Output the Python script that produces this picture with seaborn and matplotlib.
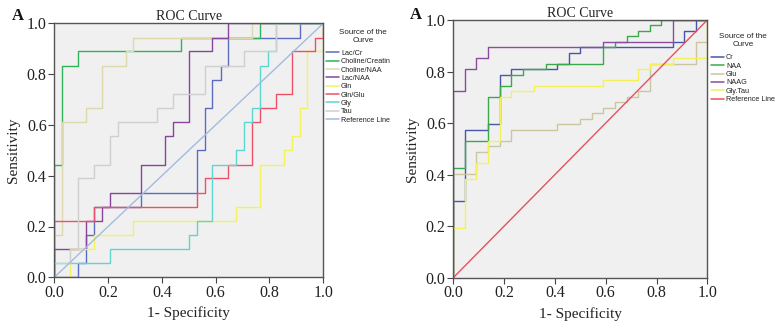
import matplotlib
matplotlib.use("Agg")
import matplotlib.pyplot as plt
import numpy as np
import pandas as pd
import seaborn as sns
from matplotlib.transforms import Bbox, TransformedBbox

# ---------------- data (left panel) ----------------
left_names = ["Lac/Cr", "Choline/Creatinine", "Choline/NAA", "Lac/NAA",
              "Gln", "Gln/Glu", "Gly", "Tau"]
lac_cr_fpr = [0, 0.088, 0.118, 0.147, 0.324, 0.529, 0.559, 0.588, 0.618, 0.647, 0.912, 1.0]
lac_cr_tpr = [0, 0.056, 0.167, 0.278, 0.333, 0.5, 0.667, 0.778, 0.833, 0.944, 1.0, 1.0]
cho_cr_fpr = [0, 0, 0.029, 0.088, 0.471, 0.765, 1.0]
cho_cr_tpr = [0, 0.444, 0.833, 0.889, 0.944, 1.0, 1.0]
cho_naa_fpr = [0, 0, 0.029, 0.118, 0.176, 0.265, 0.294, 0.735, 1.0]
cho_naa_tpr = [0, 0.167, 0.611, 0.667, 0.833, 0.889, 0.944, 1.0, 1.0]
lac_naa_fpr = [0, 0, 0.118, 0.176, 0.206, 0.324, 0.412, 0.441, 0.5, 0.588, 0.647, 1.0]
lac_naa_tpr = [0, 0.111, 0.222, 0.278, 0.333, 0.444, 0.556, 0.611, 0.889, 0.944, 1.0, 1.0]
gln_fpr = [0, 0.059, 0.147, 0.294, 0.676, 0.765, 0.853, 0.882, 0.912, 0.941, 1.0]
gln_tpr = [0, 0.111, 0.167, 0.222, 0.278, 0.444, 0.5, 0.556, 0.667, 0.889, 1.0]
gln_glu_fpr = [0, 0, 0.147, 0.529, 0.559, 0.647, 0.735, 0.765, 0.824, 0.882, 0.971, 1.0]
gln_glu_tpr = [0, 0.222, 0.278, 0.333, 0.389, 0.444, 0.611, 0.667, 0.722, 0.889, 0.944, 1.0]
gly_fpr = [0, 0, 0.206, 0.5, 0.529, 0.588, 0.676, 0.706, 0.735, 0.765, 0.794, 0.824, 1.0]
gly_tpr = [0, 0.056, 0.111, 0.167, 0.222, 0.444, 0.5, 0.611, 0.667, 0.833, 0.889, 1.0, 1.0]
tau_fpr = [0, 0, 0.059, 0.088, 0.147, 0.206, 0.235, 0.382, 0.441, 0.559, 0.706, 0.824, 1.0]
tau_tpr = [0, 0.056, 0.111, 0.389, 0.444, 0.556, 0.611, 0.667, 0.722, 0.833, 0.889, 1.0, 1.0]
left_colors = ["#5b6cc0", "#2fb35a", "#dcd9ae", "#86449a", "#f4f25c",
               "#ef5069", "#5fd6cf", "#cfcfcf", "#a3bbe2"]

# ---------------- data (right panel) ----------------
right_names = ["Cr", "NAA", "Glu", "NAAG", "Gly.Tau"]
cr_fpr = [0, 0, 0.045, 0.136, 0.182, 0.227, 0.409, 0.455, 0.5, 0.864, 0.909, 0.955, 1.0]
cr_tpr = [0, 0.298, 0.574, 0.596, 0.787, 0.809, 0.830, 0.872, 0.894, 0.915, 0.957, 1.0, 1.0]
naa_fpr = [0, 0, 0.045, 0.136, 0.182, 0.227, 0.273, 0.364, 0.591, 0.636, 0.682, 0.727, 0.773, 0.818, 1.0]
naa_tpr = [0, 0.426, 0.532, 0.702, 0.745, 0.787, 0.809, 0.830, 0.894, 0.915, 0.936, 0.957, 0.979, 1.0, 1.0]
glu_fpr = [0, 0, 0.091, 0.136, 0.182, 0.227, 0.409, 0.5, 0.545, 0.591, 0.636, 0.682, 0.727, 0.773, 0.955, 1.0]
glu_tpr = [0, 0.404, 0.489, 0.511, 0.532, 0.574, 0.596, 0.617, 0.638, 0.660, 0.681, 0.702, 0.723, 0.830, 0.915, 1.0]
naag_fpr = [0, 0, 0.045, 0.091, 0.136, 0.591, 0.864, 1.0]
naag_tpr = [0, 0.723, 0.809, 0.851, 0.894, 0.915, 1.0, 1.0]
glytau_fpr = [0, 0, 0.045, 0.091, 0.136, 0.182, 0.227, 0.318, 0.591, 0.727, 0.773, 0.864, 1.0]
glytau_tpr = [0, 0.191, 0.383, 0.447, 0.532, 0.702, 0.723, 0.745, 0.766, 0.809, 0.830, 0.851, 1.0]
right_colors = ["#4656a8", "#3aa84c", "#cbc6a0", "#8a4c9c", "#f3f058", "#e4525f"]

ref_fpr = [0.0, 1.0]
ref_tpr = [0.0, 1.0]
ref_name = "Reference Line"

tick_vals = [0.0, 0.2, 0.4, 0.6, 0.8, 1.0]
tick_labels = ["0.0", "0.2", "0.4", "0.6", "0.8", "1.0"]


def step_path(fpr, tpr):
    xs, ys = [fpr[0]], [tpr[0]]
    for x, y in zip(fpr[1:], tpr[1:]):
        xs += [x, x]
        ys += [ys[-1], y]
    return xs, ys


def build(names, fprs, tprs):
    frames = []
    for n, f, t in zip(names, fprs, tprs):
        xs, ys = step_path(f, t)
        frames.append(pd.DataFrame({"fpr": xs, "tpr": ys, "curve": n}))
    frames.append(pd.DataFrame({"fpr": ref_fpr, "tpr": ref_tpr, "curve": ref_name}))
    return pd.concat(frames, ignore_index=True)


sns.set_theme(style="ticks")
plt.rcParams["font.family"] = ["Liberation Serif", "DejaVu Serif"]

fig = plt.figure(figsize=(7.76, 3.24), dpi=100)
ax1 = fig.add_axes([54.3 / 776, (324 - 277.3) / 324, 269 / 776, 254 / 324])
ax2 = fig.add_axes([453.3 / 776, (324 - 277.7) / 324, 254 / 776, 257.7 / 324])

df_left = build(left_names,
                [lac_cr_fpr, cho_cr_fpr, cho_naa_fpr, lac_naa_fpr, gln_fpr, gln_glu_fpr, gly_fpr, tau_fpr],
                [lac_cr_tpr, cho_cr_tpr, cho_naa_tpr, lac_naa_tpr, gln_tpr, gln_glu_tpr, gly_tpr, tau_tpr])
df_right = build(right_names,
                 [cr_fpr, naa_fpr, glu_fpr, naag_fpr, glytau_fpr],
                 [cr_tpr, naa_tpr, glu_tpr, naag_tpr, glytau_tpr])

panels = [
    (ax1, df_left, left_names + [ref_name], left_colors, (1.004, 0.985)),
    (ax2, df_right, right_names + [ref_name], right_colors, (1.008, 0.955)),
]

for ax, df, order, cols, anchor in panels:
    sns.lineplot(data=df, x="fpr", y="tpr", hue="curve", hue_order=order,
                 palette=cols, sort=False, estimator=None, lw=1.0, ax=ax)
    ax.set_facecolor("#f0f0f0")
    ax.set_xlim(0, 1)
    ax.set_ylim(0, 1)
    ax.set_xticks(tick_vals)
    ax.set_xticklabels(tick_labels)
    ax.set_yticks(tick_vals)
    ax.set_yticklabels(tick_labels)
    ax.tick_params(direction="out", length=4, width=0.8, color="#444444",
                   labelsize=11.5, labelcolor="#222222", pad=1.5)
    for s in ax.spines.values():
        s.set_visible(True)
        s.set_color("#555555")
        s.set_linewidth(1.0)
    ax.set_xlabel("1- Specificity", fontsize=11, color="#222222", labelpad=4)
    ax.set_ylabel("Sensitivity", fontsize=11, color="#222222", labelpad=5)
    ax.set_title("ROC Curve", fontsize=10, color="#222222", pad=2)
    sns.move_legend(ax, "upper left", bbox_to_anchor=anchor,
                    title="Source of the\nCurve", frameon=False,
                    prop={"family": "Liberation Sans", "size": 5.2},
                    title_fontproperties={"family": "Liberation Sans", "size": 5.8},
                    handlelength=1.8, handletextpad=0.3, labelspacing=0.18,
                    borderaxespad=0, borderpad=0.2, alignment="center")
    leg = ax.get_legend()
    leg._legend_box.sep = 4.5
    for line in leg.get_lines():
        line.set_linewidth(1.1)
    for t in leg.get_texts():
        t.set_color("#222222")
    title = leg.get_title()
    title.set_color("#222222")
    title.set_multialignment("center")

# clip the left legend at the panel boundary (as in the source image)
clipbox = TransformedBbox(Bbox([[0, 0], [390 / 776, 1]]), fig.transFigure)
for t in ax1.get_legend().get_texts():
    t.set_clip_box(clipbox)
    t.set_clip_on(True)

fig.text(12 / 776, 1 - 20 / 324, "A", fontsize=12, fontweight="bold", color="#111111")
fig.text(410 / 776, 1 - 19 / 324, "A", fontsize=12, fontweight="bold", color="#111111")

fig.savefig("out.png", dpi=100, facecolor="white")
